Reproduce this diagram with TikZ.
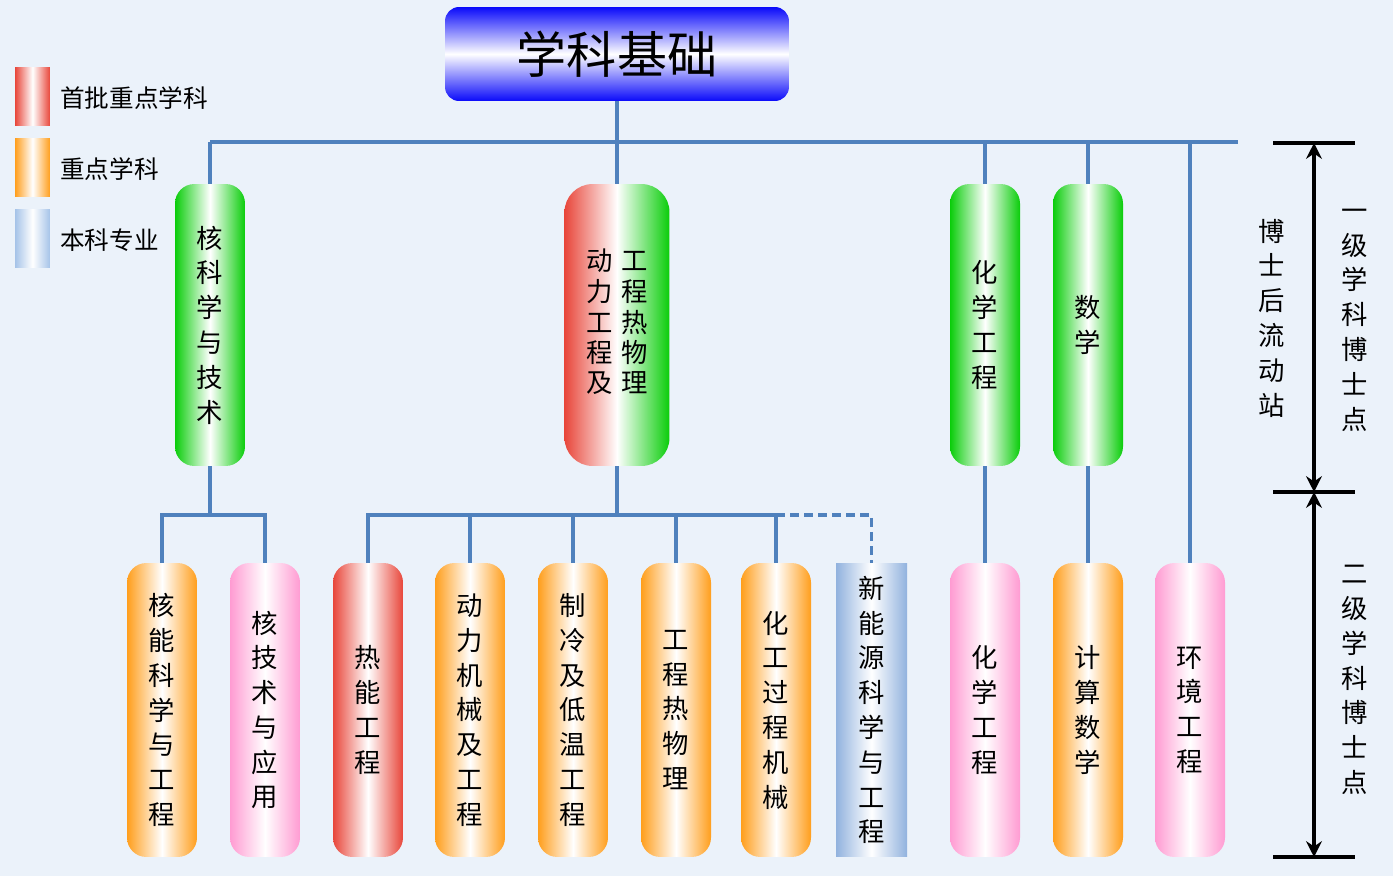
\documentclass[tikz,border=0pt]{standalone}
\usepackage{fontspec}
\setmainfont{Noto Sans CJK SC}
\usetikzlibrary{arrows.meta,calc}

\definecolor{bgblue}{RGB}{235,242,250}
\definecolor{linkblue}{RGB}{79,129,189}
\definecolor{topblue}{RGB}{10,10,250}
\definecolor{gbar}{RGB}{10,205,10}
\definecolor{rbar}{RGB}{232,70,58}
\definecolor{obar}{RGB}{255,158,28}
\definecolor{pbar}{RGB}{255,155,210}
\definecolor{bbar}{RGB}{145,178,222}
\definecolor{lbar}{RGB}{165,195,232}

\tikzset{
	boxtext/.style={align=center, inner sep=0pt, font=\fontsize{15pt}{19.8pt}\selectfont},
	lvlone/.style={boxtext, rounded corners=11pt, minimum width=1.4cm, minimum height=5.64cm},
	lvltwo/.style={boxtext, rounded corners=11pt, minimum width=1.4cm, minimum height=5.88cm},
	greenbar/.style={left color=gbar, right color=gbar, middle color=white},
	redbar/.style={left color=rbar, right color=rbar, middle color=white},
	orangebar/.style={left color=obar, right color=obar, middle color=white},
	pinkbar/.style={left color=pbar, right color=pbar, middle color=white},
	bluebar/.style={left color=bbar, right color=bbar, middle color=white},
	legendbar/.style={minimum width=0.7cm, minimum height=1.18cm, inner sep=0pt},
	legendtext/.style={anchor=west, inner sep=0pt, font=\fontsize{14pt}{16pt}\selectfont},
	link/.style={linkblue, line width=2pt},
	scalebar/.style={black, line width=1.8pt},
	sidetext/.style={boxtext},
}

\begin{document}
\begin{tikzpicture}[x=0.02cm, y=-0.02cm]
			%%%%% START %%%%%
			
			\fill[bgblue] (0, 0) rectangle (1393, 876);
			\useasboundingbox (0, 0) rectangle (1393, 876);
			
			% legend
			\node[legendbar, redbar] (lgr) at (32.5, 96.5) {};
			\node[legendbar, orangebar] (lgo) at (32.5, 167.5) {};
			\node[legendbar, left color=lbar, right color=lbar, middle color=white] (lgb) at (32.5, 238.5) {};
			\node[legendtext] at (60, 98) {首批重点学科};
			\node[legendtext] at (60, 169) {重点学科};
			\node[legendtext] at (60, 240) {本科专业};
			
			% root
			\node[top color=topblue, bottom color=topblue, middle color=white, rounded corners=8pt,
				minimum width=6.88cm, minimum height=1.88cm, inner sep=0pt,
				font=\fontsize{28.5pt}{30pt}\selectfont] (root) at (617, 54) {学科基础};
			
			% first level
			\node[lvlone, greenbar] (nst) at (210, 325) {核\\科\\学\\与\\技\\术};
			\node[lvlone, left color=rbar, right color=gbar, middle color=white, rounded corners=16pt,
				minimum width=2.1cm, font=\fontsize{15pt}{16.4pt}\selectfont] (pwr) at (617, 325)
				{\begin{tabular}{@{}c@{\hspace{5pt}}c@{}}动&工\\力&程\\工&热\\程&物\\及&理\end{tabular}};
			\node[lvlone, greenbar] (che) at (985, 325) {化\\学\\工\\程};
			\node[lvlone, greenbar] (mat) at (1088, 325) {数\\学};
			
			% second level
			\node[lvltwo, orangebar] (nse) at (162, 710) {核\\能\\科\\学\\与\\工\\程};
			\node[lvltwo, pinkbar] (nta) at (265, 710) {核\\技\\术\\与\\应\\用};
			\node[lvltwo, redbar] (the) at (368, 710) {热\\能\\工\\程};
			\node[lvltwo, orangebar] (pme) at (470, 710) {动\\力\\机\\械\\及\\工\\程};
			\node[lvltwo, orangebar] (rce) at (573, 710) {制\\冷\\及\\低\\温\\工\\程};
			\node[lvltwo, orangebar] (etp) at (676, 710) {工\\程\\热\\物\\理};
			\node[lvltwo, orangebar] (cpm) at (776, 710) {化\\工\\过\\程\\机\\械};
			\node[lvltwo, bluebar, rounded corners=0pt, minimum width=1.42cm] (nes) at (871.5, 710) {新\\能\\源\\科\\学\\与\\工\\程};
			\node[lvltwo, pinkbar] (chb) at (985, 710) {化\\学\\工\\程};
			\node[lvltwo, orangebar] (cmt) at (1088, 710) {计\\算\\数\\学};
			\node[lvltwo, pinkbar] (env) at (1190, 710) {环\\境\\工\\程};
			
			% links
			\coordinate (busl) at (210, 142);
			\coordinate (busr) at (1238, 142);
			\coordinate (jnst) at (210, 515);
			\coordinate (jpwr) at (617, 515);
			
			\draw[link] (root.south) -- (pwr.north);
			\draw[link] (busl) -- (busr);
			\draw[link] (busl) -- (nst.north);
			\draw[link] (che.north |- busl) -- (che.north);
			\draw[link] (mat.north |- busl) -- (mat.north);
			\draw[link] (env.north |- busl) -- (env.north);
			
			\draw[link] (nst.south) -- (jnst);
			\draw[link] (nse.north) |- (jnst) -| (nta.north);
			\draw[link] (pwr.south) -- (jpwr);
			\draw[link] (the.north) |- (cpm.north |- jpwr) -- (cpm.north);
			\foreach \n in {pme, rce, etp}
				\draw[link] (\n.north |- jpwr) -- (\n.north);
			\draw[link, dash pattern=on 5pt off 3pt] (cpm.north |- jpwr) -| (nes.north);
			\draw[link] (che.south) -- (chb.north);
			\draw[link] (mat.south) -- (cmt.north);
			
			% scale on the right
			\coordinate (ska) at (1314, 143);
			\coordinate (skb) at (1314, 492);
			\coordinate (skc) at (1314, 857);
			\foreach \s in {ska, skb, skc}
				\draw[scalebar] ($(\s)+(-41, 0)$) -- ($(\s)+(41, 0)$);
			\draw[scalebar, {Stealth[length=9pt, width=9pt, inset=3pt]}-{Stealth[length=9pt, width=9pt, inset=3pt]}] (ska) -- (skb);
			\draw[scalebar, {Stealth[length=9pt, width=9pt, inset=3pt]}-{Stealth[length=9pt, width=9pt, inset=3pt]}] (skb) -- (skc);
			
			\node[sidetext] (pds) at (1272, 318) {博\\士\\后\\流\\动\\站};
			\node[sidetext] (fst) at (1355, 320) {一\\级\\学\\科\\博\\士\\点};
			\node[sidetext] (snd) at (1355, 680) {二\\级\\学\\科\\博\\士\\点};
			
			%%%%% END %%%%%
\end{tikzpicture}
\end{document}
